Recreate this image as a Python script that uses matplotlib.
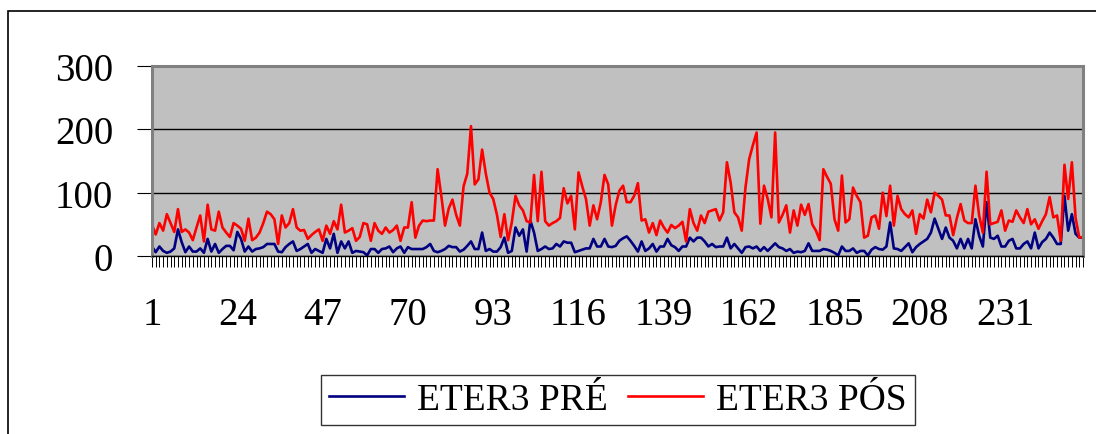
import matplotlib.pyplot as plt
from matplotlib.patches import Rectangle

plt.rcParams['font.family'] = ['Liberation Serif', 'DejaVu Serif']

# ETER3 antes e depois, uma medida por amostra (1..252)
eter3_pre = [
    15, 6, 15, 8, 5, 7, 12, 42, 22, 6, 15, 7, 7, 12, 5, 27, 7, 19, 5, 11,
    16, 16, 9, 38, 27, 7, 15, 7, 11, 12, 14, 19, 19, 19, 7, 6, 14, 19, 23, 8,
    11, 15, 19, 5, 11, 8, 5, 27, 12, 35, 5, 23, 12, 23, 5, 8, 7, 6, 1, 11,
    11, 5, 11, 12, 15, 6, 12, 15, 5, 14, 11, 11, 11, 11, 14, 19, 8, 6, 8, 11,
    16, 14, 14, 7, 10, 16, 23, 11, 11, 37, 8, 11, 7, 7, 14, 29, 5, 8, 45, 32,
    42, 7, 56, 37, 8, 11, 15, 11, 12, 19, 15, 23, 21, 21, 6, 8, 10, 12, 12, 27,
    15, 15, 27, 15, 14, 16, 24, 28, 31, 24, 16, 7, 23, 8, 12, 19, 7, 15, 15, 27,
    17, 14, 8, 15, 15, 29, 23, 29, 29, 23, 15, 19, 14, 15, 15, 29, 12, 19, 12, 5,
    14, 15, 12, 15, 8, 14, 8, 14, 20, 14, 12, 8, 11, 5, 7, 6, 8, 20, 8, 8,
    8, 11, 10, 8, 5, 1, 15, 8, 8, 12, 5, 8, 8, 1, 10, 14, 11, 10, 15, 53,
    12, 11, 8, 14, 20, 6, 14, 19, 23, 27, 37, 59, 43, 27, 45, 29, 24, 12, 27, 12,
    27, 12, 58, 32, 15, 85, 29, 27, 32, 15, 15, 24, 27, 12, 12, 19, 23, 12, 37, 12,
    22, 27, 37, 29, 19, 19, 95, 40, 66, 35, 29, 29,
]

eter3_pos = [
    49, 34, 52, 40, 66, 52, 38, 74, 38, 42, 37, 25, 45, 64, 23, 81, 42, 40, 70, 45,
    37, 30, 52, 48, 43, 24, 59, 25, 29, 37, 52, 70, 66, 58, 19, 64, 45, 52, 74, 45,
    40, 41, 27, 33, 38, 42, 24, 48, 35, 55, 42, 81, 37, 40, 44, 24, 30, 52, 50, 24,
    52, 40, 35, 45, 37, 41, 48, 24, 45, 45, 85, 29, 48, 56, 55, 56, 56, 137, 95, 48,
    75, 89, 65, 48, 110, 130, 205, 113, 121, 168, 130, 100, 90, 65, 30, 66, 25, 53, 95, 80,
    72, 55, 53, 128, 55, 133, 55, 48, 52, 55, 60, 107, 83, 95, 42, 132, 110, 90, 48, 80,
    58, 85, 128, 113, 48, 80, 103, 111, 85, 85, 95, 115, 56, 58, 37, 52, 33, 56, 45, 37,
    49, 44, 48, 54, 23, 74, 52, 40, 64, 52, 70, 72, 74, 56, 69, 148, 116, 69, 61, 40,
    108, 153, 175, 195, 51, 111, 90, 61, 195, 53, 65, 80, 37, 72, 48, 81, 65, 82, 50, 40,
    25, 137, 125, 114, 58, 40, 127, 53, 58, 108, 95, 85, 29, 32, 61, 64, 43, 100, 63, 111,
    48, 95, 74, 66, 61, 72, 35, 66, 59, 89, 69, 100, 95, 89, 64, 64, 33, 60, 82, 56,
    52, 52, 111, 64, 37, 133, 50, 52, 54, 72, 40, 56, 54, 72, 61, 52, 74, 50, 58, 43,
    55, 66, 93, 61, 64, 24, 144, 90, 148, 60, 29, 30,
]

amostras = list(range(1, len(eter3_pos) + 1))
rotulos = [str(n) if (n - 1) % 23 == 0 else '' for n in amostras]
y_ticks = [0, 100, 200, 300]

fig = plt.figure(figsize=(10.96, 4.35), dpi=100)
fig.patches.append(Rectangle((8 / 1096, -0.1), 1.2, 1.1 - 12 / 435, transform=fig.transFigure,
                             fill=False, edgecolor='black', linewidth=1.2))

ax = fig.add_axes([152 / 1096, 1 - 257 / 435, 931 / 1096, 190 / 435])
ax.set_facecolor('#c0c0c0')

ax.plot(amostras, eter3_pre, color='#000080', linewidth=1.9, label='ETER3 PRÉ')
ax.plot(amostras, eter3_pos, color='#ff0000', linewidth=1.9, label='ETER3 PÓS')

ax.set_xlim(1, len(amostras))
ax.set_ylim(0, 300)
ax.set_yticks(y_ticks)
ax.set_xticks(amostras)
ax.set_xticklabels(rotulos)
ax.yaxis.grid(True, color='black', linewidth=1.0)
ax.set_axisbelow(True)

for lado in ['top', 'right', 'left']:
    ax.spines[lado].set_color('#808080')
    ax.spines[lado].set_linewidth(2.2)
ax.spines['bottom'].set_color('black')
ax.spines['bottom'].set_linewidth(1.0)

ax.tick_params(axis='y', direction='out', length=11, width=0.8, pad=17, labelsize=28)
ax.tick_params(axis='x', direction='out', length=8, width=0.7, pad=21, labelsize=28)

leg = fig.legend(loc='center', bbox_to_anchor=(618 / 1096, 1 - 401 / 435), ncol=2,
                 fontsize=27, frameon=True, fancybox=False, edgecolor='black',
                 handlelength=2.0, handletextpad=0.35, columnspacing=0.55, borderpad=0.2)
leg.get_frame().set_linewidth(1.0)

fig.savefig('out.png', dpi=100)
